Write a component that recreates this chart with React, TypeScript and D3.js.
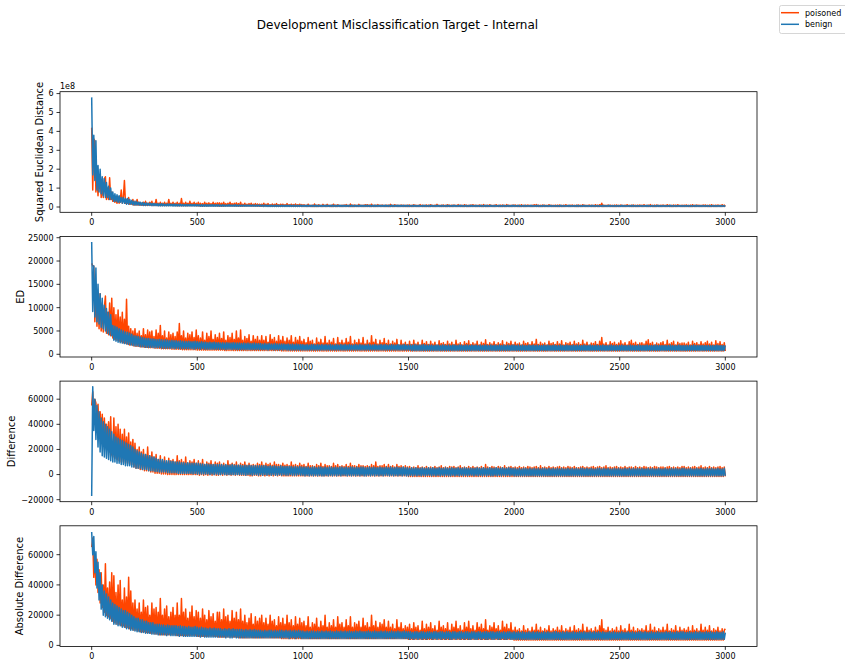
import React from 'react';
import * as d3 from 'd3';

// Samples are evenly spaced over training steps 0..3000 (every 5 steps).
const X_MAX = 3000;
const xTicks = [0, 500, 1000, 1500, 2000, 2500, 3000];

// ---------- Panel 1: Squared Euclidean Distance (units of 1e7) ----------
const benignSq = [
  58, 17, 38, 14, 35, 9, 22, 8, 20, 7, 16, 6, 15, 5, 13, 5, 11, 4, 10, 4,
  8, 3, 7, 3, 6.5, 2.5, 6, 2.5, 5, 2, 5, 2, 4.5, 1.5, 4.5, 1.5, 4, 1.5, 3.5, 1.2,
  3, 1, 3, 1, 2.6, 1, 2.5, 0.9, 2.4, 0.8, 2.2, 0.8, 2.1, 0.8, 2, 0.8, 2, 0.7, 1.9, 0.7,
  1.8, 0.7, 1.8, 0.6, 1.7, 0.6, 1.8, 0.6, 1.6, 0.6, 1.5, 0.6, 1.7, 0.6, 1.6, 0.6, 1.5, 0.5, 1.6, 0.5,
  1.5, 0.5, 1.4, 0.5, 1.5, 0.5, 1.4, 0.5, 1.3, 0.5, 1.4, 0.5, 1.3, 0.5, 1.4, 0.5, 1.3, 0.5, 1.4, 0.5,
  1.3, 0.5, 1.2, 0.4, 1.3, 0.4, 1.2, 0.4, 1.3, 0.4, 1.2, 0.4, 1.2, 0.4, 1.3, 0.4, 1.2, 0.4, 1.2, 0.4,
  1.2, 0.4, 1.1, 0.4, 1.2, 0.4, 1.1, 0.4, 1.1, 0.4, 1.2, 0.4, 1.1, 0.4, 1.1, 0.4, 1.2, 0.4, 1.1, 0.4,
  1.1, 0.4, 1.0, 0.4, 1.1, 0.4, 1.0, 0.4, 1.1, 0.4, 1.0, 0.4, 1.1, 0.4, 1.0, 0.4, 1.0, 0.4, 1.1, 0.4,
  1.0, 0.4, 1.0, 0.3, 1.1, 0.3, 1.0, 0.3, 1.0, 0.3, 1.0, 0.3, 0.9, 0.3, 1.0, 0.3, 1.0, 0.3, 0.9, 0.3,
  1.0, 0.3, 0.9, 0.3, 1.0, 0.3, 0.9, 0.3, 1.0, 0.3, 0.9, 0.3, 1.0, 0.3, 0.9, 0.3, 0.9, 0.3, 1.0, 0.3,
  0.9, 0.3, 0.9, 0.3, 1.0, 0.3, 0.9, 0.3, 0.9, 0.3, 0.9, 0.3, 1.0, 0.3, 0.9, 0.3, 0.9, 0.3, 0.9, 0.3,
  0.9, 0.3, 1.0, 0.3, 0.9, 0.3, 0.9, 0.3, 1.0, 0.3, 0.9, 0.3, 0.9, 0.3, 1.0, 0.3, 0.9, 0.3, 0.9, 0.3,
  0.9, 0.3, 0.9, 0.3, 0.9, 0.3, 1.0, 0.3, 0.9, 0.3, 0.9, 0.3, 0.9, 0.3, 1.0, 0.3, 0.9, 0.3, 0.9, 0.3,
  1.0, 0.3, 0.9, 0.3, 0.9, 0.3, 0.9, 0.3, 1.0, 0.3, 0.9, 0.3, 0.9, 0.3, 0.9, 0.3, 0.9, 0.3, 1.0, 0.3,
  0.9, 0.3, 0.9, 0.3, 1.0, 0.3, 0.9, 0.3, 0.9, 0.3, 1.0, 0.3, 0.9, 0.3, 0.9, 0.3, 0.9, 0.3, 0.9, 0.3,
  0.9, 0.3, 0.8, 0.3, 0.9, 0.3, 0.9, 0.3, 0.8, 0.3, 0.9, 0.3, 0.8, 0.3, 0.9, 0.3, 0.9, 0.3, 0.8, 0.3,
  0.9, 0.3, 0.9, 0.3, 0.8, 0.3, 0.9, 0.3, 0.9, 0.3, 0.8, 0.3, 0.9, 0.3, 0.8, 0.3, 0.9, 0.3, 0.9, 0.3,
  0.8, 0.3, 0.9, 0.3, 0.9, 0.3, 0.8, 0.3, 0.9, 0.3, 0.9, 0.3, 0.8, 0.3, 0.9, 0.3, 0.8, 0.3, 0.9, 0.3,
  0.9, 0.3, 0.8, 0.3, 0.9, 0.3, 0.8, 0.3, 0.9, 0.3, 0.8, 0.3, 0.9, 0.3, 0.9, 0.3, 0.8, 0.3, 0.9, 0.3,
  0.8, 0.3, 0.9, 0.3, 0.8, 0.3, 0.9, 0.3, 0.8, 0.3, 0.9, 0.3, 0.8, 0.3, 0.9, 0.3, 0.8, 0.3, 0.9, 0.3,
  0.9, 0.3, 0.8, 0.3, 0.9, 0.3, 0.8, 0.3, 0.8, 0.3, 0.9, 0.3, 0.8, 0.3, 0.8, 0.3, 0.9, 0.3, 0.8, 0.3,
  0.8, 0.3, 0.9, 0.3, 0.8, 0.3, 0.8, 0.3, 0.9, 0.3, 0.8, 0.3, 0.8, 0.3, 0.9, 0.3, 0.8, 0.3, 0.8, 0.3,
  0.8, 0.3, 0.8, 0.3, 0.9, 0.3, 0.8, 0.3, 0.8, 0.3, 0.8, 0.3, 0.9, 0.3, 0.8, 0.3, 0.8, 0.3, 0.8, 0.3,
  0.9, 0.3, 0.8, 0.3, 0.8, 0.3, 0.9, 0.3, 0.8, 0.3, 0.8, 0.3, 0.8, 0.3, 0.9, 0.3, 0.8, 0.3, 0.8, 0.3,
  0.8, 0.3, 0.8, 0.3, 0.9, 0.3, 0.8, 0.3, 0.8, 0.3, 0.9, 0.3, 0.8, 0.3, 0.8, 0.3, 0.8, 0.3, 0.8, 0.3,
  0.8, 0.3, 0.9, 0.3, 0.8, 0.3, 0.8, 0.3, 0.8, 0.3, 0.8, 0.3, 0.9, 0.3, 0.8, 0.3, 0.8, 0.3, 0.8, 0.3,
  0.8, 0.3, 0.8, 0.3, 0.8, 0.3, 0.9, 0.3, 0.8, 0.3, 0.8, 0.3, 0.8, 0.3, 0.8, 0.3, 0.9, 0.3, 0.8, 0.3,
  0.8, 0.3, 0.8, 0.3, 0.8, 0.3, 0.8, 0.3, 0.9, 0.3, 0.8, 0.3, 0.8, 0.3, 0.8, 0.3, 0.8, 0.3, 0.8, 0.3,
  0.8, 0.3, 0.8, 0.3, 0.8, 0.3, 0.8, 0.3, 0.8, 0.3, 0.8, 0.3, 0.9, 0.3, 0.8, 0.3, 0.8, 0.3, 0.8, 0.3,
  0.8, 0.3, 0.8, 0.3, 0.8, 0.3, 0.8, 0.3, 0.8, 0.3, 0.8, 0.3, 0.8, 0.3, 0.8, 0.3, 0.8, 0.3, 0.8, 0.3,
  0.8,
];
const poisonedSq = [
  42, 9, 36, 35, 8, 18, 6, 17, 16, 5, 12, 5, 15, 16, 4, 10, 4, 15.5, 4, 8,
  3, 6, 2.5, 4, 2, 5.5, 2, 3, 9, 2, 5, 14, 2, 4, 2, 5, 1.5, 3, 1.5, 4,
  1, 3, 1, 4, 1, 2.5, 1, 2, 1, 2.5, 1, 3, 1, 2, 1, 2.5, 1, 3, 0.8, 2,
  0.8, 4, 0.8, 2, 0.8, 2.5, 0.8, 2, 0.8, 2.5, 0.8, 2, 0.8, 4, 0.8, 2, 0.8, 2.5, 0.8, 2,
  0.7, 2.5, 0.7, 2, 0.7, 4.5, 0.7, 2, 0.7, 2.5, 0.7, 2, 0.7, 3, 0.7, 2, 0.7, 2.5, 0.7, 2,
  0.6, 2.5, 0.6, 2, 0.6, 1.8, 0.6, 2.5, 0.6, 2, 0.6, 2.2, 0.6, 1.8, 0.6, 2.5, 0.6, 2, 0.6, 2.2,
  0.5, 2.2, 0.5, 2, 0.5, 2.5, 0.5, 1.8, 0.5, 2, 0.5, 2.5, 0.5, 1.8, 0.5, 2, 0.5, 2.2, 0.5, 1.8,
  0.5, 2.5, 0.5, 1.5, 0.5, 2, 0.5, 1.5, 0.5, 1.8, 0.5, 2, 0.5, 1.5, 0.5, 1.8, 0.5, 1.6, 0.5, 1.5,
  0.4, 1.5, 0.4, 2, 0.4, 1.5, 0.4, 1.8, 0.4, 1.2, 0.4, 1.6, 0.4, 1.4, 0.4, 1.8, 0.4, 1.2, 0.4, 1.5,
  0.4, 1.5, 0.4, 1.2, 0.4, 1.8, 0.4, 1.2, 0.4, 1.5, 0.4, 1.3, 0.4, 1.6, 0.4, 1.2, 0.4, 1.5, 0.4, 1.3,
  0.3, 1.2, 0.3, 1.0, 0.3, 1.5, 0.3, 0.9, 0.3, 1.0, 0.3, 1.6, 0.3, 1.0, 0.3, 1.2, 0.3, 0.9, 0.3, 1.4,
  0.3, 1.0, 0.3, 1.4, 0.3, 0.9, 0.3, 1.0, 0.3, 1.5, 0.3, 1.0, 0.3, 1.2, 0.3, 0.9, 0.3, 1.0, 0.3, 1.1,
  0.3, 1.3, 0.3, 0.9, 0.3, 1.6, 0.3, 1.0, 0.3, 1.1, 0.3, 0.9, 0.3, 1.4, 0.3, 1.0, 0.3, 1.0, 0.3, 1.2,
  0.3, 1.2, 0.3, 1.0, 0.3, 1.5, 0.3, 0.9, 0.3, 1.0, 0.3, 1.3, 0.3, 1.0, 0.3, 1.1, 0.3, 0.9, 0.3, 1.0,
  0.3, 1.0, 0.3, 1.4, 0.3, 0.9, 0.3, 1.2, 0.3, 1.0, 0.3, 0.9, 0.3, 1.1, 0.3, 1.0, 0.3, 0.9, 0.3, 1.0,
  0.3, 1.1, 0.3, 0.9, 0.3, 1.2, 0.3, 1.0, 0.3, 0.9, 0.3, 1.3, 0.3, 1.0, 0.3, 0.9, 0.3, 1.1, 0.3, 1.0,
  0.3, 1.2, 0.3, 0.9, 0.3, 1.0, 0.3, 1.4, 0.3, 0.9, 0.3, 1.0, 0.3, 1.1, 0.3, 0.9, 0.3, 1.2, 0.3, 1.0,
  0.3, 1.0, 0.3, 1.1, 0.3, 0.9, 0.3, 1.3, 0.3, 1.0, 0.3, 0.9, 0.3, 1.2, 0.3, 1.0, 0.3, 0.9, 0.3, 1.1,
  0.3, 1.2, 0.3, 1.0, 0.3, 0.9, 0.3, 1.1, 0.3, 1.0, 0.3, 1.3, 0.3, 0.9, 0.3, 1.0, 0.3, 1.2, 0.3, 0.9,
  0.3, 1.0, 0.3, 1.2, 0.3, 0.9, 0.3, 1.0, 0.3, 1.1, 0.3, 0.9, 0.3, 1.3, 0.3, 1.0, 0.3, 0.9, 0.3, 1.1,
  0.3, 1.1, 0.3, 0.9, 0.3, 1.0, 0.3, 1.2, 0.3, 0.9, 0.3, 1.0, 0.3, 1.1, 0.3, 0.9, 0.3, 1.0, 0.3, 1.2,
  0.3, 1.3, 0.3, 1.0, 0.3, 0.9, 0.3, 1.1, 0.3, 1.0, 0.3, 0.9, 0.3, 1.2, 0.3, 1.0, 0.3, 0.9, 0.3, 1.0,
  0.3, 1.0, 0.3, 1.1, 0.3, 0.9, 0.3, 1.0, 0.3, 1.2, 0.3, 0.9, 0.3, 1.0, 0.3, 1.1, 0.3, 0.9, 0.3, 1.0,
  0.3, 1.1, 0.3, 0.9, 0.3, 1.2, 0.3, 1.0, 0.3, 0.9, 0.3, 1.1, 0.3, 1.0, 0.3, 0.9, 0.3, 1.2, 0.3, 1.0,
  0.3, 1.2, 0.3, 2.0, 0.3, 1.0, 0.3, 0.9, 0.3, 1.1, 0.3, 1.0, 0.3, 0.9, 0.3, 1.0, 0.3, 1.1, 0.3, 0.9,
  0.3, 1.1, 0.3, 0.9, 0.3, 1.0, 0.3, 1.2, 0.3, 0.9, 0.3, 1.0, 0.3, 1.1, 0.3, 0.9, 0.3, 1.0, 0.3, 1.1,
  0.3, 1.0, 0.3, 1.2, 0.3, 0.9, 0.3, 1.0, 0.3, 1.3, 0.3, 0.9, 0.3, 1.0, 0.3, 1.1, 0.3, 0.9, 0.3, 1.0,
  0.3, 1.1, 0.3, 0.9, 0.3, 1.2, 0.3, 1.0, 0.3, 0.9, 0.3, 1.1, 0.3, 1.0, 0.3, 1.2, 0.3, 0.9, 0.3, 1.0,
  0.3, 1.0, 0.3, 1.1, 0.3, 0.9, 0.3, 1.0, 0.3, 1.2, 0.3, 0.9, 0.3, 1.1, 0.3, 1.0, 0.3, 0.9, 0.3, 1.1,
  0.3, 1.1, 0.3, 0.9, 0.3, 1.0, 0.3, 1.2, 0.3, 0.9, 0.3, 1.0, 0.3, 1.1, 0.3, 0.9, 0.3, 1.2, 0.3, 1.0,
  0.3,
];

// ---------- Panel 2: ED (units of 100) ----------
const benignEd = [
  241, 92, 190, 80, 185, 70, 150, 65, 130, 58, 120, 55, 105, 50, 98, 45, 90, 42, 85, 40,
  62, 30, 60, 28, 58, 26, 55, 25, 52, 24, 50, 23, 48, 22, 47, 21, 45, 20, 43, 19,
  40, 18, 39, 18, 38, 17, 37, 16, 36, 16, 35, 15, 34, 15, 34, 15, 33, 15, 33, 14,
  32, 14, 31, 14, 32, 14, 31, 13, 30, 13, 31, 13, 30, 13, 29, 13, 30, 13, 29, 12,
  29, 13, 28, 12, 29, 12, 28, 12, 28, 12, 27, 12, 28, 12, 27, 12, 27, 11, 28, 12,
  27, 12, 26, 11, 27, 12, 26, 11, 26, 11, 25, 11, 26, 11, 25, 11, 26, 11, 25, 11,
  25, 11, 24, 11, 25, 11, 24, 10, 25, 11, 24, 11, 24, 10, 25, 11, 24, 10, 24, 10,
  24, 10, 23, 10, 24, 10, 23, 10, 24, 10, 23, 10, 23, 10, 24, 10, 23, 10, 23, 10,
  23, 10, 22, 10, 23, 10, 22, 9, 23, 10, 22, 10, 22, 9, 23, 10, 22, 9, 22, 10,
  22, 9, 22, 10, 21, 9, 22, 9, 21, 9, 22, 9, 21, 9, 22, 9, 21, 9, 21, 9,
  21, 9, 20, 9, 21, 9, 20, 9, 21, 9, 21, 9, 20, 9, 21, 9, 20, 9, 21, 9,
  20, 9, 21, 9, 20, 9, 21, 9, 20, 9, 20, 9, 21, 9, 20, 9, 21, 9, 20, 9,
  21, 9, 20, 9, 21, 9, 20, 9, 20, 9, 21, 9, 20, 9, 21, 9, 20, 9, 20, 9,
  20, 9, 21, 9, 20, 9, 20, 9, 21, 9, 20, 9, 20, 9, 21, 9, 20, 9, 21, 9,
  20, 9, 20, 9, 21, 9, 20, 9, 20, 9, 21, 9, 20, 9, 20, 9, 21, 9, 20, 9,
  20, 9, 20, 8, 20, 8, 21, 8, 20, 8, 20, 8, 20, 8, 21, 8, 20, 8, 20, 8,
  20, 8, 20, 8, 19, 8, 20, 8, 20, 8, 19, 8, 20, 8, 20, 8, 19, 8, 20, 8,
  19, 8, 20, 8, 20, 8, 19, 8, 20, 8, 20, 8, 19, 8, 20, 8, 20, 8, 19, 8,
  20, 8, 19, 8, 20, 8, 19, 8, 20, 8, 19, 8, 20, 8, 20, 8, 19, 8, 20, 8,
  19, 8, 20, 8, 19, 8, 20, 8, 19, 8, 20, 8, 19, 8, 20, 8, 19, 8, 20, 8,
  20, 8, 19, 8, 20, 8, 19, 8, 20, 8, 19, 8, 19, 8, 20, 8, 19, 8, 20, 8,
  19, 8, 20, 8, 19, 8, 19, 8, 20, 8, 19, 8, 20, 8, 19, 8, 19, 8, 20, 8,
  19, 8, 19, 8, 20, 8, 19, 8, 19, 8, 20, 8, 19, 8, 19, 8, 20, 8, 19, 8,
  20, 8, 19, 8, 19, 8, 20, 8, 19, 8, 19, 8, 20, 8, 19, 8, 19, 8, 20, 8,
  19, 8, 19, 8, 20, 8, 19, 8, 19, 8, 19, 8, 20, 8, 19, 8, 19, 8, 19, 8,
  19, 8, 20, 8, 19, 8, 19, 8, 19, 8, 20, 8, 19, 8, 19, 8, 19, 8, 20, 8,
  19, 8, 19, 8, 19, 8, 20, 8, 19, 8, 19, 8, 19, 8, 20, 8, 19, 8, 19, 8,
  19, 8, 19, 8, 19, 8, 19, 8, 20, 8, 19, 8, 19, 8, 19, 8, 20, 8, 19, 8,
  19, 8, 19, 8, 19, 8, 19, 8, 19, 8, 20, 8, 19, 8, 19, 8, 19, 8, 19, 8,
  19, 8, 19, 8, 19, 8, 19, 8, 19, 8, 19, 8, 20, 8, 19, 8, 19, 8, 19, 8,
  19,
];
const poisonedEd = [
  195, 190, 188, 70, 135, 60, 132, 55, 130, 50, 110, 48, 100, 125, 45, 90, 42, 110, 40, 120,
  35, 100, 32, 85, 30, 95, 28, 80, 27, 90, 25, 75, 24, 118, 22, 60, 20, 55, 20, 50,
  18, 55, 17, 45, 17, 50, 16, 40, 16, 55, 15, 42, 15, 52, 14, 48, 14, 50, 14, 38,
  13, 52, 13, 45, 13, 62, 12, 40, 12, 50, 12, 35, 12, 48, 12, 42, 11, 45, 11, 38,
  11, 48, 11, 66, 11, 40, 10, 50, 10, 35, 10, 45, 10, 42, 10, 48, 10, 36, 10, 52,
  9, 40, 9, 35, 9, 48, 9, 30, 9, 45, 9, 38, 9, 50, 9, 32, 9, 42, 9, 36,
  9, 45, 9, 34, 9, 48, 8, 30, 8, 40, 8, 36, 8, 45, 8, 32, 8, 50, 8, 35,
  8, 52, 8, 30, 8, 38, 8, 34, 8, 42, 8, 28, 8, 40, 8, 32, 8, 38, 8, 30,
  8, 40, 8, 30, 8, 38, 8, 26, 8, 42, 8, 32, 8, 36, 8, 28, 8, 40, 8, 30,
  7, 38, 7, 28, 7, 35, 7, 30, 7, 40, 7, 26, 7, 36, 7, 30, 7, 38, 7, 28,
  7, 32, 7, 25, 7, 36, 7, 28, 7, 30, 7, 22, 7, 35, 7, 26, 7, 32, 7, 24,
  7, 38, 7, 24, 7, 30, 7, 26, 7, 34, 7, 22, 7, 36, 7, 25, 7, 30, 7, 24,
  7, 34, 7, 26, 7, 38, 7, 22, 7, 30, 7, 25, 7, 32, 7, 24, 7, 36, 7, 22,
  7, 30, 7, 24, 7, 40, 7, 26, 7, 32, 7, 22, 7, 30, 7, 25, 7, 34, 7, 23,
  7, 30, 7, 22, 7, 28, 7, 24, 7, 32, 7, 20, 7, 30, 7, 22, 7, 26, 7, 21,
  7, 28, 7, 21, 7, 30, 7, 22, 7, 26, 7, 20, 7, 30, 7, 23, 7, 27, 7, 21,
  7, 28, 7, 22, 7, 26, 7, 20, 7, 29, 7, 23, 7, 25, 7, 21, 7, 28, 7, 22,
  7, 26, 7, 21, 7, 30, 7, 22, 7, 25, 7, 20, 7, 27, 7, 23, 7, 29, 7, 21,
  7, 25, 7, 22, 7, 28, 7, 20, 7, 26, 7, 23, 7, 31, 7, 21, 7, 25, 7, 22,
  7, 27, 7, 21, 7, 25, 7, 22, 7, 29, 7, 20, 7, 26, 7, 23, 7, 28, 7, 21,
  7, 26, 7, 22, 7, 24, 7, 20, 7, 28, 7, 23, 7, 25, 7, 21, 7, 27, 7, 22,
  7, 32, 7, 21, 7, 26, 7, 22, 7, 24, 7, 20, 7, 28, 7, 23, 7, 25, 7, 21,
  7, 27, 7, 22, 7, 29, 7, 20, 7, 25, 7, 23, 7, 26, 7, 21, 7, 28, 7, 22,
  7, 25, 7, 21, 7, 30, 7, 22, 7, 26, 7, 20, 7, 24, 7, 23, 7, 27, 7, 21,
  7, 28, 7, 36, 7, 22, 7, 25, 7, 20, 7, 27, 7, 23, 7, 26, 7, 21, 7, 24,
  7, 29, 7, 22, 7, 25, 7, 20, 7, 27, 7, 30, 7, 23, 7, 26, 7, 21, 7, 24,
  7, 25, 7, 22, 7, 28, 7, 31, 7, 23, 7, 26, 7, 20, 7, 24, 7, 22, 7, 25,
  7, 27, 7, 21, 7, 30, 7, 22, 7, 25, 7, 28, 7, 20, 7, 26, 7, 23, 7, 24,
  7, 24, 7, 22, 7, 26, 7, 20, 7, 28, 7, 23, 7, 25, 7, 21, 7, 27, 7, 22,
  7, 25, 7, 28, 7, 22, 7, 26, 7, 20, 7, 29, 7, 23, 7, 27, 7, 21, 7, 25,
  7,
];

// ---------- Panel 3: Difference (units of 1000) ----------
const benignDiff = [
  -17, 70, 35, 60, 28, 55, 22, 50, 18, 45, 15, 42, 14, 40, 13, 38, 12, 36, 11, 34,
  10, 32, 10, 30, 9, 29, 9, 28, 8, 27, 8, 26, 7, 25, 7, 24, 7, 23, 6, 22,
  6, 20, 5, 19, 5, 18, 5, 17, 4, 16, 4, 16, 4, 15, 3, 15, 3, 14, 3, 14,
  2.5, 13, 2.5, 12, 2, 12, 2, 12, 2, 11, 2, 11, 1.5, 11, 1.5, 10.5, 1.5, 10.5, 1.5, 10,
  1.5, 10, 1, 10, 1, 9.5, 1, 9.5, 1, 9, 1, 9.5, 1, 9, 1, 9, 0.5, 9, 1, 9,
  0.5, 9, 0.5, 8.5, 0.5, 8.5, 0.5, 8, 0.5, 8.5, 0.5, 8, 0, 8, 0.5, 8, 0, 8, 0.5, 8,
  0, 8, 0, 8, 0.5, 7.5, 0, 8, 0, 7.5, 0, 7.5, 0, 8, 0, 7.5, 0, 7.5, 0, 7.5,
  0, 7.5, 0, 7, 0, 7.5, -0.5, 7, 0, 7.5, 0, 7, -0.5, 7, 0, 7, 0, 7, -0.5, 7,
  0, 7, -0.5, 7, 0, 7, -0.5, 6.5, 0, 7, -0.5, 6.5, 0, 7, -0.5, 6.5, -0.5, 6.5, 0, 7,
  -0.5, 6.5, 0, 6.5, -0.5, 6.5, -0.5, 6.5, 0, 6.5, -0.5, 6, -0.5, 6.5, -0.5, 6, 0, 6.5, -0.5, 6,
  -0.5, 6, -1, 6, -0.5, 6, -1, 5.5, -0.5, 6, -1, 6, -0.5, 5.5, -1, 6, -0.5, 6, -1, 5.5,
  -1, 6, -0.5, 5.5, -1, 6, -0.5, 6, -1, 5.5, -0.5, 6, -1, 5.5, -0.5, 6, -1, 6, -0.5, 5.5,
  -0.5, 6, -1, 5.5, -0.5, 6, -1, 6, -0.5, 5.5, -1, 6, -0.5, 5.5, -1, 6, -0.5, 6, -1, 5.5,
  -1, 5.5, -0.5, 6, -1, 5.5, -0.5, 6, -1, 5.5, -0.5, 5.5, -1, 6, -0.5, 5.5, -1, 5.5, -0.5, 6,
  -0.5, 5.5, -1, 6, -0.5, 5.5, -1, 5.5, -0.5, 6, -1, 5.5, -0.5, 5.5, -1, 6, -0.5, 5.5, -1, 5.5,
  -1, 5, -0.5, 5.5, -1, 5, -0.5, 5.5, -1, 5, -0.5, 5, -1, 5.5, -0.5, 5, -1, 5, -0.5, 5.5,
  -0.5, 5, -1, 5.5, -0.5, 5, -1, 5, -0.5, 5.5, -1, 5, -0.5, 5, -1, 5.5, -0.5, 5, -1, 5,
  -1, 5.5, -0.5, 5, -1, 5, -0.5, 5.5, -1, 5, -0.5, 5, -1, 5.5, -0.5, 5, -1, 5, -0.5, 5,
  -0.5, 5, -1, 5, -0.5, 5.5, -1, 5, -0.5, 5, -1, 5.5, -0.5, 5, -1, 5, -0.5, 5.5, -1, 5,
  -1, 5, -0.5, 5.5, -1, 5, -0.5, 5, -1, 5.5, -0.5, 5, -1, 5, -0.5, 5.5, -1, 5, -0.5, 5,
  -1, 5, -1, 4.5, -1, 5, -1, 4.5, -1, 5, -1, 5, -1, 4.5, -1, 5, -1, 4.5, -1, 5,
  -1, 4.5, -1, 5, -1, 4.5, -1, 5, -1, 5, -1, 4.5, -1, 5, -1, 4.5, -1, 5, -1, 4.5,
  -1, 5, -1, 4.5, -1, 5, -1, 4.5, -1, 4.5, -1, 5, -1, 4.5, -1, 5, -1, 4.5, -1, 5,
  -1, 4.5, -1, 5, -1, 5, -1, 4.5, -1, 5, -1, 4.5, -1, 5, -1, 4.5, -1, 4.5, -1, 5,
  -1, 5, -1, 4.5, -1, 5, -1, 4.5, -1, 5, -1, 4.5, -1, 4.5, -1, 5, -1, 4.5, -1, 5,
  -1, 4.5, -1, 4.5, -1, 5, -1, 4.5, -1, 5, -1, 4.5, -1, 5, -1, 4.5, -1, 5, -1, 4.5,
  -1, 5, -1, 4.5, -1, 4.5, -1, 5, -1, 4.5, -1, 5, -1, 4.5, -1, 4.5, -1, 5, -1, 4.5,
  -1, 4.5, -1, 5, -1, 4.5, -1, 4.5, -1, 5, -1, 4.5, -1, 5, -1, 4.5, -1, 4.5, -1, 5,
  -1, 5, -1, 4.5, -1, 4.5, -1, 5, -1, 4.5, -1, 4.5, -1, 5, -1, 4.5, -1, 5, -1, 4.5,
  -1, 4.5, -1, 5, -1, 4.5, -1, 5, -1, 4.5, -1, 4.5, -1, 5, -1, 4.5, -1, 4.5, -1, 5,
  -1,
];
const poisonedDiff = [
  55, 66, 40, 60, 57, 35, 56, 30, 50, 28, 48, 25, 45, 22, 40, 20, 42, 18, 46, 16,
  14, 45, 13, 38, 12, 40, 11, 36, 10, 32, 10, 36, 9, 30, 9, 33, 8, 26, 8, 28,
  6, 25, 5, 20, 5, 22, 4, 18, 4, 20, 3, 16, 3, 22, 3, 15, 2, 18, 2, 14,
  1, 16, 1, 12, 1, 15, 0.5, 11, 0.5, 14, 0.5, 10, 0, 13, 0, 11, 0, 12, 0, 10,
  0, 15, 0, 11, 0, 12, 0, 10, 0, 14, 0, 9, 0, 11, 0, 10, 0, 12, 0, 9,
  0, 11, -0.5, 9, 0, 12, -0.5, 8, 0, 10, -0.5, 9, 0, 11, -0.5, 8, 0, 10, -0.5, 9,
  -0.5, 10, 0, 8, -0.5, 9, 0, 7.5, -0.5, 11, 0, 8, -0.5, 9, 0, 8, -0.5, 10, 0, 7.5,
  -0.5, 9, -0.5, 8, -0.5, 10, -0.5, 7.5, -0.5, 9, -1, 7.5, -1, 8, -0.5, 7.5, -0.5, 9, -1, 8,
  -1, 10, -0.5, 7.5, -1, 9, -0.5, 8, -1, 9, -0.5, 7.5, -1, 10, -0.5, 8, -1, 8, -0.5, 7.5,
  -1, 9, -1, 7.5, -1, 8, -1, 7, -1, 10, -1, 7.5, -1, 8, -1, 7, -1, 9, -1, 7.5,
  -1, 8, -1, 6.5, -1, 9, -1, 7, -1, 7, -1, 6.5, -1, 8, -1, 7, -1, 9, -1, 6.5,
  -1, 8, -1, 7, -1, 7, -1, 6.5, -1, 9, -1, 7, -1, 8, -1, 6.5, -1, 7, -1, 6.5,
  -1, 8, -1, 6.5, -1, 9, -1, 7, -1, 7, -1, 6.5, -1, 8, -1, 7, -1, 7, -1, 6.5,
  -1, 7, -1, 6.5, -1, 8, -1, 7, -1, 10, -1, 6.5, -1, 7, -1, 7, -1, 8, -1, 6.5,
  -1, 8, -1, 6.5, -1, 7, -1, 6, -1, 8, -1, 6.5, -1, 7, -1, 6, -1, 7, -1, 6,
  -1.5, 6.5, -1.5, 5.5, -1.5, 6, -1.5, 5.5, -1.5, 7, -1.5, 5.5, -1.5, 6, -1.5, 5.5, -1.5, 6.5, -1.5, 5.5,
  -1.5, 6, -1.5, 5.5, -1.5, 6.5, -1.5, 5.5, -1.5, 6, -1.5, 7, -1.5, 5.5, -1.5, 6, -1.5, 5.5, -1.5, 6.5,
  -1.5, 6, -1.5, 6.5, -1.5, 5.5, -1.5, 6, -1.5, 7, -1.5, 5.5, -1.5, 6, -1.5, 5.5, -1.5, 6.5, -1.5, 5.5,
  -1.5, 6.5, -1.5, 5.5, -1.5, 6, -1.5, 5.5, -1.5, 6.5, -1.5, 5.5, -1.5, 8, -1.5, 6, -1.5, 5.5, -1.5, 6.5,
  -1.5, 6, -1.5, 5.5, -1.5, 6.5, -1.5, 6, -1.5, 5.5, -1.5, 7, -1.5, 5.5, -1.5, 6, -1.5, 6.5, -1.5, 5.5,
  -1.5, 6, -1.5, 5.5, -1.5, 6.5, -1.5, 5.5, -1.5, 6, -1.5, 5.5, -1.5, 6.5, -1.5, 6, -1.5, 5.5, -1.5, 6,
  -1.5, 6.5, -1.5, 5.5, -1.5, 7, -1.5, 5.5, -1.5, 6, -1.5, 5.5, -1.5, 6.5, -1.5, 5.5, -1.5, 6, -1.5, 5.5,
  -1.5, 6, -1.5, 6.5, -1.5, 5.5, -1.5, 6, -1.5, 5.5, -1.5, 6.5, -1.5, 6, -1.5, 5.5, -1.5, 6.5, -1.5, 5.5,
  -1.5, 5.5, -1.5, 6, -1.5, 6.5, -1.5, 5.5, -1.5, 6, -1.5, 5.5, -1.5, 6, -1.5, 6.5, -1.5, 5.5, -1.5, 6,
  -1.5, 6.5, -1.5, 5.5, -1.5, 6, -1.5, 7, -1.5, 5.5, -1.5, 6, -1.5, 5.5, -1.5, 6, -1.5, 6.5, -1.5, 5.5,
  -1.5, 6, -1.5, 5.5, -1.5, 6.5, -1.5, 5.5, -1.5, 6, -1.5, 6, -1.5, 5.5, -1.5, 6.5, -1.5, 5.5, -1.5, 6,
  -1.5, 5.5, -1.5, 6.5, -1.5, 6, -1.5, 5.5, -1.5, 6, -1.5, 5.5, -1.5, 6.5, -1.5, 6, -1.5, 5.5, -1.5, 6,
  -1.5, 6, -1.5, 5.5, -1.5, 6, -1.5, 6.5, -1.5, 5.5, -1.5, 6, -1.5, 5.5, -1.5, 6, -1.5, 5.5, -1.5, 6.5,
  -1.5, 6.5, -1.5, 5.5, -1.5, 6, -1.5, 5.5, -1.5, 6, -1.5, 6.5, -1.5, 5.5, -1.5, 6, -1.5, 7, -1.5, 5.5,
  -1.5, 6, -1.5, 5.5, -1.5, 6.5, -1.5, 5.5, -1.5, 6, -1.5, 5.5, -1.5, 6, -1.5, 6.5, -1.5, 5.5, -1.5, 6,
  -1.5,
];

// ---------- Panel 4: Absolute Difference (units of 1000) ----------
const benignAbs = [
  75, 60, 72, 48, 62, 38, 55, 30, 48, 24, 40, 20, 36, 19, 34, 18, 32, 17, 30, 16,
  28, 14, 27, 14, 26, 13, 25, 13, 24, 12, 23, 12, 23, 11, 22, 11, 21, 10, 20, 10,
  19, 9.5, 18, 9, 18, 9, 17, 8.5, 17, 8.5, 16, 8, 16, 8, 15, 8, 15, 7.5, 15, 7.5,
  14, 7.5, 14, 7, 14, 7, 13.5, 7, 13.5, 7, 13, 6.5, 13.5, 7, 13, 6.5, 13, 6.5, 13, 6.5,
  13, 6.5, 12.5, 6, 13, 6.5, 12.5, 6, 12.5, 6, 12, 6, 12.5, 6, 12, 6, 12, 6, 12.5, 6,
  12, 6, 11.5, 5.5, 12, 6, 11.5, 5.5, 11.5, 5.5, 11, 5.5, 11.5, 5.5, 11, 5.5, 11.5, 5.5, 11, 5.5,
  11, 5.5, 11, 5.5, 10.5, 5.5, 11, 5, 10.5, 5.5, 11, 5, 10.5, 5, 11, 5.5, 10.5, 5, 10.5, 5,
  10.5, 5, 10.5, 5, 10, 5, 10.5, 5, 10, 5, 10.5, 5, 10, 5, 10.5, 5, 10, 5, 10, 5,
  10, 5, 9.5, 5, 10, 5, 9.5, 5, 10, 5, 10, 5, 9.5, 5, 10, 5, 9.5, 5, 10, 5,
  10, 5, 9.5, 5, 10, 5, 9.5, 4.5, 10, 5, 9.5, 5, 10, 4.5, 9.5, 5, 10, 5, 9.5, 4.5,
  9.5, 4.5, 9, 4.5, 9.5, 4.5, 9, 4.5, 9.5, 4.5, 9.5, 4.5, 9, 4.5, 9.5, 4.5, 9, 4.5, 9.5, 4.5,
  9, 4.5, 9.5, 4.5, 9, 4.5, 9.5, 4.5, 9, 4.5, 9, 4.5, 9.5, 4.5, 9, 4.5, 9.5, 4.5, 9, 4.5,
  9.5, 4.5, 9, 4.5, 9.5, 4.5, 9, 4.5, 9, 4.5, 9.5, 4.5, 9, 4.5, 9.5, 4.5, 9, 4.5, 9, 4.5,
  9, 4.5, 9.5, 4.5, 9, 4.5, 9, 4.5, 9.5, 4.5, 9, 4.5, 9, 4.5, 9.5, 4.5, 9, 4.5, 9.5, 4.5,
  9, 4.5, 9, 4.5, 9.5, 4.5, 9, 4.5, 9, 4.5, 9.5, 4.5, 9, 4.5, 9, 4.5, 9.5, 4.5, 9, 4.5,
  9, 4, 9, 4.5, 8.5, 4, 9, 4.5, 9, 4, 8.5, 4.5, 9, 4, 9, 4.5, 8.5, 4, 9, 4.5,
  9, 4.5, 8.5, 4, 9, 4.5, 9, 4, 8.5, 4.5, 9, 4, 9, 4.5, 8.5, 4, 9, 4.5, 9, 4,
  8.5, 4, 9, 4.5, 9, 4, 8.5, 4.5, 9, 4, 9, 4.5, 8.5, 4, 9, 4.5, 9, 4, 8.5, 4,
  9, 4.5, 9, 4, 8.5, 4, 9, 4.5, 9, 4, 8.5, 4.5, 9, 4, 9, 4, 8.5, 4.5, 9, 4,
  9, 4, 8.5, 4.5, 9, 4, 9, 4, 8.5, 4.5, 9, 4, 8.5, 4, 9, 4.5, 9, 4, 8.5, 4,
  9, 4, 8.5, 4, 9, 4, 8.5, 4, 9, 4, 8.5, 4, 8.5, 4, 9, 4, 8.5, 4, 9, 4,
  8.5, 4, 9, 4, 8.5, 4, 8.5, 4, 9, 4, 8.5, 4, 9, 4, 8.5, 4, 8.5, 4, 9, 4,
  9, 4, 8.5, 4, 8.5, 4, 9, 4, 8.5, 4, 9, 4, 8.5, 4, 8.5, 4, 9, 4, 8.5, 4,
  8.5, 4, 9, 4, 8.5, 4, 9, 4, 8.5, 4, 8.5, 4, 9, 4, 8.5, 4, 9, 4, 8.5, 4,
  9, 4, 8.5, 4, 9, 4, 8.5, 4, 8.5, 4, 9, 4, 8.5, 4, 9, 4, 8.5, 4, 8.5, 4,
  8.5, 4, 9, 4, 8.5, 4, 8.5, 4, 9, 4, 8.5, 4, 9, 4, 8.5, 4, 8.5, 4, 9, 4,
  9, 4, 8.5, 4, 9, 4, 8.5, 4, 8.5, 4, 9, 4, 8.5, 4, 8.5, 4, 9, 4, 8.5, 4,
  8.5, 4, 8.5, 4, 9, 4, 8.5, 4, 9, 4, 8.5, 4, 8.5, 4, 9, 4, 8.5, 4, 9, 4,
  9, 4, 8.5, 4, 8.5, 4, 9, 4, 8.5, 4, 8.5, 4, 9, 4, 8.5, 4, 9, 4, 8.5, 4,
  8.5, 4, 9, 4, 8.5, 4, 9, 4, 8.5, 4, 8.5, 4, 9, 4, 8.5, 4, 8.5, 4, 9, 4,
  8.5,
];
const poisonedAbs = [
  65, 71, 45, 59, 40, 57, 35, 50, 28, 48, 25, 40, 22, 54, 20, 38, 19, 42, 18, 48,
  16, 46, 15, 35, 14, 40, 14, 43, 13, 30, 13, 38, 12, 32, 12, 45, 11, 36, 11, 28,
  10, 30, 10, 24, 9.5, 28, 9, 22, 9, 30, 9, 25, 8.5, 26, 8.5, 20, 8, 28, 8, 24,
  7.5, 25, 7.5, 22, 7, 31, 7, 20, 7, 24, 7, 26, 7, 19, 7, 22, 7, 25, 7, 20,
  6.5, 28, 6.5, 20, 6.5, 31, 6.5, 22, 6.5, 24, 6.5, 18, 6.5, 22, 6.5, 26, 6.5, 19, 6.5, 23,
  6, 22, 6, 18, 6, 24, 6, 20, 6, 17, 6, 23, 6, 19, 6, 21, 6, 16, 6, 22,
  5.5, 22, 5.5, 17, 5.5, 24, 5.5, 19, 5.5, 20, 5.5, 16, 5.5, 23, 5.5, 18, 5.5, 22, 5.5, 17,
  5, 24, 5, 16, 5, 20, 5, 15, 5, 18, 5, 21, 5, 14, 5, 19, 5, 16, 5, 18,
  5, 20, 5, 15, 5, 18, 5, 14, 5, 20, 5, 16, 5, 17, 5, 13, 5, 19, 5, 15,
  4.5, 18, 4.5, 14, 4.5, 20, 4.5, 15, 4.5, 17, 4.5, 13, 4.5, 19, 4.5, 14, 4.5, 18, 4.5, 15,
  4.5, 16, 4.5, 13, 4.5, 19, 4.5, 12, 4.5, 15, 4.5, 14, 4.5, 18, 4.5, 12, 4.5, 16, 4.5, 13,
  4.5, 20, 4.5, 12, 4.5, 15, 4.5, 13, 4.5, 17, 4.5, 12, 4.5, 19, 4.5, 14, 4.5, 15, 4.5, 12,
  4.5, 17, 4.5, 13, 4.5, 19, 4.5, 12, 4.5, 15, 4.5, 14, 4.5, 16, 4.5, 12, 4.5, 18, 4.5, 13,
  4.5, 15, 4.5, 12, 4.5, 20, 4.5, 13, 4.5, 16, 4.5, 12, 4.5, 15, 4.5, 14, 4.5, 17, 4.5, 12,
  4.5, 16, 4.5, 12, 4.5, 14, 4.5, 11, 4.5, 17, 4.5, 12, 4.5, 15, 4.5, 11, 4.5, 13, 4.5, 12,
  4, 14, 4, 11, 4, 15, 4, 12, 4, 13, 4, 10, 4, 16, 4, 11, 4, 14, 4, 12,
  4, 15, 4, 11, 4, 13, 4, 10, 4, 16, 4, 12, 4, 13, 4, 11, 4, 15, 4, 10,
  4, 14, 4, 12, 4, 16, 4, 11, 4, 13, 4, 10, 4, 15, 4, 12, 4, 16, 4, 11,
  4, 13, 4, 10, 4, 15, 4, 12, 4, 14, 4, 11, 4, 17, 4, 10, 4, 13, 4, 12,
  4, 15, 4, 11, 4, 13, 4, 10, 4, 16, 4, 12, 4, 14, 4, 11, 4, 15, 4, 10,
  3.5, 12, 3.5, 10, 3.5, 11, 3.5, 9.5, 3.5, 13, 3.5, 10, 3.5, 11, 3.5, 9.5, 3.5, 12, 3.5, 10,
  3.5, 14, 3.5, 10, 3.5, 12, 3.5, 9.5, 3.5, 11, 3.5, 10, 3.5, 13, 3.5, 9.5, 3.5, 11, 3.5, 10,
  3.5, 12, 3.5, 10, 3.5, 13, 3.5, 9.5, 3.5, 11, 3.5, 10, 3.5, 12, 3.5, 9.5, 3.5, 13, 3.5, 10,
  3.5, 11, 3.5, 10, 3.5, 14, 3.5, 9.5, 3.5, 12, 3.5, 10, 3.5, 11, 3.5, 9.5, 3.5, 12, 3.5, 10,
  3.5, 13, 3.5, 17, 3.5, 11, 3.5, 10, 3.5, 12, 3.5, 9.5, 3.5, 11, 3.5, 10, 3.5, 12, 3.5, 9.5,
  3.5, 13, 3.5, 10, 3.5, 11, 3.5, 9.5, 3.5, 14, 3.5, 10, 3.5, 12, 3.5, 9.5, 3.5, 11, 3.5, 10,
  3.5, 11, 3.5, 10, 3.5, 13, 3.5, 9.5, 3.5, 14, 3.5, 10, 3.5, 12, 3.5, 9.5, 3.5, 11, 3.5, 10,
  3.5, 12, 3.5, 10, 3.5, 14, 3.5, 9.5, 3.5, 11, 3.5, 10, 3.5, 13, 3.5, 9.5, 3.5, 12, 3.5, 10,
  3.5, 11, 3.5, 10, 3.5, 12, 3.5, 9.5, 3.5, 13, 3.5, 10, 3.5, 11, 3.5, 9.5, 3.5, 14, 3.5, 10,
  3.5, 12, 3.5, 10, 3.5, 13, 3.5, 9.5, 3.5, 11, 3.5, 10, 3.5, 12, 3.5, 9.5, 3.5, 11, 3.5, 10,
  11,
];

const TITLE = 'Development Misclassification Target - Internal';
const seriesNames = ['poisoned', 'benign'];
const seriesColors = ['#ff4500', '#1f77b4'];

const panels = [
  {
    label: 'Squared Euclidean Distance', poisoned: poisonedSq, benign: benignSq, unit: 1e7,
    domain: [-0.28e8, 6.1e8], ticks: [0, 1e8, 2e8, 3e8, 4e8, 5e8, 6e8],
    fmt: (v: number) => String(v / 1e8), offsetText: '1e8', labelX: 43,
  },
  {
    label: 'ED', poisoned: poisonedEd, benign: benignEd, unit: 100,
    domain: [-580, 25280], ticks: [0, 5000, 10000, 15000, 20000, 25000],
    fmt: (v: number) => String(v), offsetText: '', labelX: 23.5,
  },
  {
    label: 'Difference', poisoned: poisonedDiff, benign: benignDiff, unit: 1000,
    domain: [-21600, 74400], ticks: [-20000, 0, 20000, 40000, 60000],
    fmt: (v: number) => (v < 0 ? '\u2212' + String(-v) : String(v)), offsetText: '', labelX: 15.3,
  },
  {
    label: 'Absolute Difference', poisoned: poisonedAbs, benign: benignAbs, unit: 1000,
    domain: [-660, 79100], ticks: [0, 20000, 40000, 60000],
    fmt: (v: number) => String(v), offsetText: '', labelX: 22.7,
  },
];

const W = 845;
const H = 666;
const LEFT = 60;
const RIGHT = 757;
const TOP0 = 91.7;
const PANEL_H = 120.6;
const PANEL_STEP = 144.7;
const FONT = 'DejaVu Sans, sans-serif';

export default function App() {
  const x = d3.scaleLinear().domain([-150, 3150]).range([LEFT, RIGHT]);
  return (
    <svg width={W} height={H} style={{ position: 'absolute', left: 0, top: 0, background: '#fff' }}
      fontFamily={FONT}>
      <rect x={0} y={0} width={W} height={H} fill="#fff" />
      <text x={397.5} y={28.5} textAnchor="middle" fontSize={12} fill="#000">{TITLE}</text>
      {panels.map((p, pi) => {
        const top = TOP0 + pi * PANEL_STEP;
        const bottom = top + PANEL_H;
        const y = d3.scaleLinear().domain(p.domain).range([bottom, top]);
        const mkLine = (n: number) => d3.line<number>()
          .x((_, i) => x((i * X_MAX) / (n - 1)))
          .y((d) => y(d * p.unit));
        const clipId = `clip-${pi}`;
        return (
          <g key={pi}>
            <defs>
              <clipPath id={clipId}>
                <rect x={LEFT} y={top} width={RIGHT - LEFT} height={PANEL_H} />
              </clipPath>
            </defs>
            <g clipPath={`url(#${clipId})`}>
              <path d={mkLine(p.poisoned.length)(p.poisoned) || ''} fill="none" stroke={seriesColors[0]} strokeWidth={1.5} strokeLinejoin="round" />
              <path d={mkLine(p.benign.length)(p.benign) || ''} fill="none" stroke={seriesColors[1]} strokeWidth={1.5} strokeLinejoin="round" />
            </g>
            <rect x={LEFT} y={top} width={RIGHT - LEFT} height={PANEL_H} fill="none" stroke="#000" strokeWidth={0.8} />
            {xTicks.map((t) => (
              <g key={t}>
                <line x1={x(t)} x2={x(t)} y1={bottom} y2={bottom + 3.5} stroke="#000" strokeWidth={0.8} />
                <text x={x(t)} y={bottom + 13} textAnchor="middle" fontSize={8} fill="#000">{t}</text>
              </g>
            ))}
            {p.ticks.map((t) => (
              <g key={t}>
                <line x1={LEFT - 3.5} x2={LEFT} y1={y(t)} y2={y(t)} stroke="#000" strokeWidth={0.8} />
                <text x={LEFT - 6.5} y={y(t) + 2.9} textAnchor="end" fontSize={8} fill="#000">{p.fmt(t)}</text>
              </g>
            ))}
            {p.offsetText && (
              <text x={LEFT} y={top - 3} fontSize={8} fill="#000">{p.offsetText}</text>
            )}
            <text transform={`translate(${p.labelX},${(top + bottom) / 2}) rotate(-90)`} textAnchor="middle"
              fontSize={10} fill="#000">{p.label}</text>
          </g>
        );
      })}
      <g>
        <rect x={779.5} y={5.5} width={70} height={28} rx={2} fill="#fff" fillOpacity={0.8} stroke="#ccc" strokeWidth={0.8} />
        {seriesNames.map((n, i) => (
          <g key={n}>
            <line x1={781} x2={799} y1={12.7 + i * 11.6} y2={12.7 + i * 11.6} stroke={seriesColors[i]} strokeWidth={1.5} />
            <text x={805} y={15.6 + i * 11.6} fontSize={8} fill="#000">{n}</text>
          </g>
        ))}
      </g>
    </svg>
  );
}
